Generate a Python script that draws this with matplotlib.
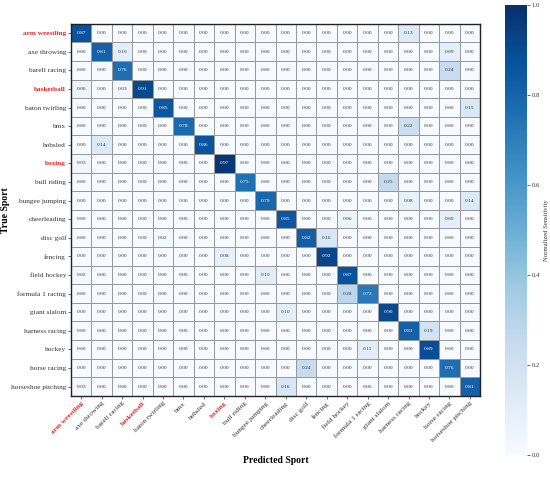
import numpy as np
import matplotlib
matplotlib.use('Agg')
import matplotlib.pyplot as plt

plt.rcParams['font.family'] = ['Liberation Serif', 'DejaVu Serif']

sports = ['arm wrestling', 'axe throwing', 'barell racing', 'basketball',
          'baton twirling', 'bmx', 'bobsled', 'boxing', 'bull riding',
          'bungee jumping', 'cheerleading', 'disc golf', 'fencing',
          'field hockey', 'formula 1 racing', 'giant slalom',
          'harness racing', 'hockey', 'horse racing', 'horseshoe pitching']
highlight = ['arm wrestling', 'basketball', 'boxing']

# non-zero entries: (true row, predicted col, value)
entries = [
    (0, 0, 0.87), (0, 16, 0.13),
    (1, 1, 0.81), (1, 2, 0.10), (1, 18, 0.09),
    (2, 2, 0.76), (2, 18, 0.24),
    (3, 0, 0.06), (3, 2, 0.03), (3, 3, 0.91),
    (4, 4, 0.85), (4, 19, 0.15),
    (5, 5, 0.78), (5, 16, 0.22),
    (6, 1, 0.14), (6, 6, 0.86),
    (7, 0, 0.03), (7, 7, 0.97),
    (8, 8, 0.75), (8, 15, 0.25),
    (9, 9, 0.79), (9, 16, 0.08), (9, 19, 0.14),
    (10, 10, 0.85), (10, 13, 0.06), (10, 18, 0.09),
    (11, 4, 0.02), (11, 11, 0.82), (11, 12, 0.16),
    (12, 7, 0.08), (12, 12, 0.92),
    (13, 0, 0.02), (13, 9, 0.10), (13, 13, 0.87),
    (14, 13, 0.28), (14, 14, 0.72),
    (15, 10, 0.10), (15, 15, 0.90),
    (16, 16, 0.81), (16, 17, 0.19),
    (17, 14, 0.11), (17, 17, 0.89),
    (18, 11, 0.24), (18, 18, 0.76),
    (19, 0, 0.03), (19, 10, 0.16), (19, 19, 0.81),
]

n = len(sports)
cm = np.zeros((n, n))
for r, c, v in entries:
    cm[r, c] = v

fig = plt.figure(figsize=(5.5, 4.96), dpi=100)
ax = fig.add_axes([0.129, 0.202, 0.744, 0.750])
cax = fig.add_axes([0.918, 0.083, 0.040, 0.907])

im = ax.pcolormesh(cm, cmap='Blues', vmin=0, vmax=1,
                   edgecolors='#999999', linewidth=0.5)
ax.set_xlim(0, n)
ax.set_ylim(n, 0)

for i in range(n):
    for j in range(n):
        v = cm[i, j]
        ax.text(j + 0.5, i + 0.5, f'{v:.2f}', ha='center', va='center',
                fontsize=3.9, color='white' if v > 0.5 else '#333333')

ax.tick_params(length=2, width=0.5, pad=1.5, colors='#333333')
ax.set_xticks(np.arange(n) + 0.5)
ax.set_yticks(np.arange(n) + 0.5)
ax.set_xticklabels(sports, rotation=45, ha='right', rotation_mode='anchor',
                   fontsize=5.2)
ax.set_yticklabels(sports, fontsize=5.2)
for lab in ax.get_xticklabels() + ax.get_yticklabels():
    if lab.get_text() in highlight:
        lab.set_color('#e0262b')
        lab.set_fontweight('bold')
    else:
        lab.set_color('#333333')
for s in ax.spines.values():
    s.set_linewidth(1.0)
    s.set_color('#222222')

ax.set_xlabel('Predicted Sport', fontsize=7, fontweight='bold')
ax.set_ylabel('True Sport', fontsize=7, fontweight='bold')
ax.xaxis.set_label_coords(0.5, -0.162)
ax.yaxis.set_label_coords(-0.148, 0.5)

cb = fig.colorbar(im, cax=cax)
cb.outline.set_visible(False)
cb.set_ticks([0, 0.2, 0.4, 0.6, 0.8, 1.0])
cb.ax.tick_params(labelsize=4.8, length=2, width=0.5, pad=1.5,
                  colors='#333333')
cb.set_label('Normalized Sensitivity', fontsize=4.8, labelpad=3,
             color='#333333')

fig.savefig('out.png', dpi=100)
